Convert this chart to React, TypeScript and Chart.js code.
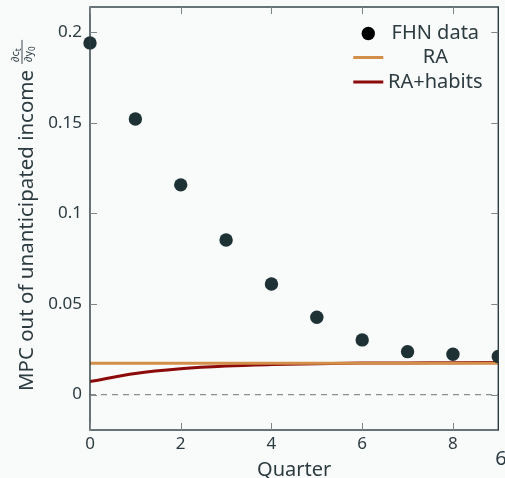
import React, { useEffect, useRef } from "react";
import { Chart, registerables } from "chart.js";

Chart.register(...registerables);

const quarters = [0, 1, 2, 3, 4, 5, 6, 7, 8, 9];
const fhnData = [0.194, 0.152, 0.1157, 0.0853, 0.061, 0.0427, 0.0302, 0.0237, 0.0223, 0.021];
const raValues = [0.0173, 0.0173, 0.0173, 0.0173, 0.0173, 0.0173, 0.0173, 0.0173, 0.0173, 0.0173];
const habitsValues = [0.0072, 0.0117, 0.0143, 0.0158, 0.0166, 0.0171, 0.0174, 0.0175, 0.0176, 0.0177];
const yTicks = [0, 0.05, 0.1, 0.15, 0.2];
const xTicks = [0, 2, 4, 6, 8];
const yTickLabels = ["0", "0.05", "0.1", "0.15", "0.2"];
const legendLabels = ["FHN data", "RA", "RA+habits"];
const yTitle = "MPC out of unanticipated income";
const xTitle = "Quarter";
const cornerLabel = "6";

const FONT = "'Noto Sans', sans-serif";
const INK = "#2c3b40";
const DOT = "#1e3135";
const ORANGE = "#d38f4a";
const RED = "#8c0a0a";
const BG = "#f9fafa";

const decorPlugin = {
  id: "decor",
  beforeDraw(chart: any) {
    const { ctx } = chart;
    ctx.save();
    ctx.fillStyle = BG;
    ctx.fillRect(0, 0, chart.width, chart.height);
    const y0 = chart.scales.y.getPixelForValue(0);
    const a = chart.chartArea;
    ctx.strokeStyle = "#8a8f91";
    ctx.lineWidth = 1.3;
    ctx.setLineDash([6, 5]);
    ctx.beginPath();
    ctx.moveTo(a.left, y0);
    ctx.lineTo(a.right, y0);
    ctx.stroke();
    ctx.restore();
  },
  afterDraw(chart: any) {
    const { ctx } = chart;
    const a = chart.chartArea;
    const xs = chart.scales.x;
    const ys = chart.scales.y;
    ctx.save();
    // box
    ctx.strokeStyle = INK;
    ctx.lineWidth = 1.4;
    ctx.strokeRect(a.left, a.top, a.right - a.left, a.bottom - a.top);
    // inward ticks
    const tl = 7;
    ctx.lineWidth = 1;
    ctx.strokeStyle = "#7d8688";
    ctx.beginPath();
    xTicks.forEach((v) => {
      const px = Math.round(xs.getPixelForValue(v)) + 0.5;
      ctx.moveTo(px, a.bottom);
      ctx.lineTo(px, a.bottom - tl);
      ctx.moveTo(px, a.top);
      ctx.lineTo(px, a.top + tl);
    });
    yTicks.forEach((v) => {
      const py = Math.round(ys.getPixelForValue(v)) + 0.5;
      ctx.moveTo(a.left, py);
      ctx.lineTo(a.left + tl, py);
      ctx.moveTo(a.right, py);
      ctx.lineTo(a.right - tl, py);
    });
    ctx.stroke();

    // legend
    const cx = a.right - 63;
    ctx.font = `20px ${FONT}`;
    ctx.textBaseline = "middle";
    ctx.textAlign = "center";
    const rows = [a.top + 26.5, a.top + 50.5, a.top + 75];
    ctx.fillStyle = "#000";
    ctx.beginPath();
    ctx.arc(a.right - 130, rows[0], 6.7, 0, Math.PI * 2);
    ctx.fill();
    ctx.lineWidth = 3;
    ctx.strokeStyle = ORANGE;
    ctx.beginPath();
    ctx.moveTo(a.right - 145, rows[1]);
    ctx.lineTo(a.right - 115, rows[1]);
    ctx.stroke();
    ctx.strokeStyle = RED;
    ctx.beginPath();
    ctx.moveTo(a.right - 145, rows[2]);
    ctx.lineTo(a.right - 115, rows[2]);
    ctx.stroke();
    ctx.fillStyle = INK;
    legendLabels.forEach((t, i) => ctx.fillText(t, cx, rows[i]));

    // x title
    ctx.font = `20px ${FONT}`;
    ctx.textBaseline = "top";
    ctx.textAlign = "center";
    ctx.fillText(xTitle, (a.left + a.right) / 2, a.bottom + 30);
    // corner label
    ctx.textAlign = "left";
    ctx.fillText(cornerLabel, a.right - 3, a.bottom + 19);

    // y title (rotated) with fraction
    ctx.translate(27, (a.top + a.bottom) / 2 - 3);
    ctx.rotate(-Math.PI / 2);
    ctx.font = `20.5px ${FONT}`;
    const mainW = ctx.measureText(yTitle).width;
    const fracW = 24;
    const total = mainW + 6 + fracW;
    const start = -total / 2;
    ctx.textAlign = "left";
    ctx.textBaseline = "middle";
    ctx.fillText(yTitle, start, 0);
    const fx = start + mainW + 6;
    ctx.lineWidth = 0.9;
    ctx.strokeStyle = INK;
    ctx.beginPath();
    ctx.moveTo(fx, -5);
    ctx.lineTo(fx + fracW, -5);
    ctx.stroke();
    ctx.textBaseline = "alphabetic";
    ctx.font = `11px ${FONT}`;
    const nW = ctx.measureText("\u2202c").width;
    const dW = ctx.measureText("\u2202y").width;
    ctx.fillText("\u2202c", fx + 2, -8);
    ctx.fillText("\u2202y", fx + 2, 5);
    ctx.font = `8px ${FONT}`;
    ctx.fillText("t", fx + 2 + nW, -6.5);
    ctx.fillText("0", fx + 2 + dW, 7.5);
    ctx.restore();
  },
};

export default function App() {
  const ref = useRef<HTMLCanvasElement | null>(null);
  useEffect(() => {
    document.body.style.margin = "0";
    const canvas = ref.current!;
    const chart = new Chart(canvas, {
      type: "scatter",
      data: {
        datasets: [
          {
            label: legendLabels[0],
            data: quarters.map((q, i) => ({ x: q, y: fhnData[i] })),
            backgroundColor: DOT,
            borderColor: DOT,
            pointRadius: 6.7,
            pointBorderWidth: 0,
            showLine: false,
            clip: { left: 12, top: 12, right: 0, bottom: 0 } as any,
          },
          {
            label: legendLabels[1],
            data: quarters.map((q, i) => ({ x: q, y: raValues[i] })),
            borderColor: ORANGE,
            backgroundColor: ORANGE,
            borderWidth: 3,
            pointRadius: 0,
            showLine: true,
          },
          {
            label: legendLabels[2],
            data: quarters.map((q, i) => ({ x: q, y: habitsValues[i] })),
            borderColor: RED,
            backgroundColor: RED,
            borderWidth: 3,
            pointRadius: 0,
            showLine: true,
            cubicInterpolationMode: "monotone",
          },
        ],
      },
      options: {
        responsive: false,
        animation: false,
        devicePixelRatio: 1,
        layout: { padding: { left: 0, top: 7, right: 6, bottom: 0 } },
        plugins: { legend: { display: false }, tooltip: { enabled: false } },
        scales: {
          x: {
            type: "linear",
            min: 0,
            max: 9,
            grid: { display: false, drawTicks: false },
            border: { display: false },
            afterBuildTicks: (s: any) => {
              s.ticks = xTicks.map((v) => ({ value: v }));
            },
            afterFit: (s: any) => {
              s.height = 48;
              s.paddingLeft = 0;
              s.paddingRight = 0;
            },
            ticks: {
              padding: 4,
              color: INK,
              font: { family: FONT, size: 17 },
              callback: (v: any) => String(v),
            },
          },
          y: {
            type: "linear",
            min: -0.0195,
            max: 0.2138,
            grid: { display: false, drawTicks: false },
            border: { display: false },
            afterBuildTicks: (s: any) => {
              s.ticks = yTicks.map((v) => ({ value: v }));
            },
            afterFit: (s: any) => {
              s.width = 90;
              s.paddingTop = 0;
              s.paddingBottom = 0;
            },
            ticks: {
              padding: 8,
              color: INK,
              font: { family: FONT, size: 17 },
              callback: (v: any) => {
                const i = yTicks.indexOf(v);
                return i >= 0 ? yTickLabels[i] : "";
              },
            },
          },
        },
      },
      plugins: [decorPlugin],
    });
    return () => chart.destroy();
  }, []);
  return (
    <canvas
      ref={ref}
      width={505}
      height={478}
      style={{ display: "block", width: 505, height: 478 }}
    />
  );
}
